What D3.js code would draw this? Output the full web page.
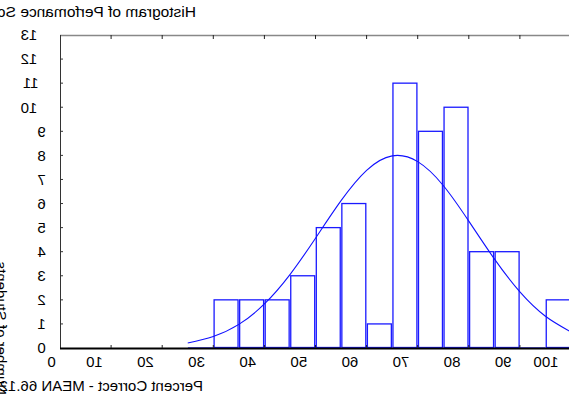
<!DOCTYPE html>
<html><head><meta charset="utf-8">
<script src="https://cdn.jsdelivr.net/npm/d3@7"></script>
<style>body{margin:0;background:#fff}svg{display:block;font-family:"Liberation Sans",Arial,sans-serif}</style>
</head><body>
<script>
const binStarts = [25,30,35,40,45,50,55,60,65,70,75,80,85,90,95];
const binWidth = 5;
const counts = [0,2,2,2,3,5,6,1,11,9,10,4,4,0,2];
const curveX = [25,30,35,40,45,50,55,60,65,70,75,80,85,90,95,100];
const curveY = [0.21,0.48,0.98,1.83,3.05,4.56,6.12,7.38,7.98,7.74,6.75,5.27,3.70,2.33,1.32,0.67];
const xTicks = [0,10,20,30,40,50,60,70,80,90,100];
const yTicks = [0,1,2,3,4,5,6,7,8,9,10,11,12,13];
const titleText = "Histogram of Perfomance Scores";
const xTitle = "Percent Correct - MEAN 66.12 SD 15.20";
const yTitle = "Number of Students";

const W = 569, H = 400;
const svg = d3.select("body").append("svg").attr("width", W).attr("height", H);
const x = d3.scaleLinear().domain([0,100]).range([60, 571]);
const y = d3.scaleLinear().domain([0,13]).range([348, 35]);

function mirror(sel){
  sel.each(function(){
    const b = this.getBBox();
    d3.select(this).attr("transform", `translate(${2*b.x},0) scale(-1,1)`);
  });
}

// top frame line
svg.append("line").attr("x1",60).attr("x2",W+5).attr("y1",35.5).attr("y2",35.5)
  .attr("stroke","#888").attr("stroke-width",1.6);
svg.append("g").selectAll("line").data(xTicks.slice(1)).join("line")
  .attr("x1",d=>x(d)).attr("x2",d=>x(d)).attr("y1",35).attr("y2",39)
  .attr("stroke","#222").attr("stroke-width",1);

// bars
svg.append("g").selectAll("rect").data(binStarts).join("rect")
  .attr("x",(d)=>x(d)+0.8)
  .attr("width",d=>x(d+binWidth)-x(d)-1.6)
  .attr("y",(d,i)=>y(counts[i]))
  .attr("height",(d,i)=>Math.max(0.01,y(0)-y(counts[i])-0.5))
  .attr("fill","none").attr("stroke","#1a1aff").attr("stroke-width",1.3);

// normal curve
const line = d3.line().x(d=>x(d[0])).y(d=>y(d[1])).curve(d3.curveNatural);
svg.append("path").datum(curveX.map((v,i)=>[v,curveY[i]]))
  .attr("d",line).attr("fill","none").attr("stroke","#1010ff").attr("stroke-width",1.1);

// left axis
svg.append("line").attr("x1",60.5).attr("x2",60.5).attr("y1",35).attr("y2",348)
  .attr("stroke","#333").attr("stroke-width",1);
svg.append("g").selectAll("line").data(yTicks.slice(1,13)).join("line")
  .attr("x1",60).attr("x2",63).attr("y1",d=>y(d)).attr("y2",d=>y(d))
  .attr("stroke","#333").attr("stroke-width",1);
// bottom axis
svg.append("line").attr("x1",60).attr("x2",W+5).attr("y1",348.5).attr("y2",348.5)
  .attr("stroke","#000").attr("stroke-width",1.8);
svg.append("g").selectAll("line").data(xTicks.slice(1)).join("line")
  .attr("x1",d=>x(d)).attr("x2",d=>x(d)).attr("y1",348).attr("y2",345)
  .attr("stroke","#222").attr("stroke-width",1);

// tick labels (mirrored glyphs)
svg.append("g").selectAll("text").data(xTicks).join("text")
  .attr("x",d=>x(d)).attr("y",367).attr("text-anchor","middle")
  .attr("font-size",15).attr("fill","#000").text(d=>d)
  .call(mirror);
svg.append("g").selectAll("text").data(yTicks).join("text")
  .attr("x",54).attr("y",d=>y(d)+5.3).attr("text-anchor","end")
  .attr("font-size",15).attr("fill","#000").text(d=>d)
  .call(mirror);

// titles
svg.append("text").attr("x",196).attr("y",16.5).attr("font-size",15.5)
  .attr("fill","#000").text(titleText).call(mirror);
svg.append("text").attr("x",203).attr("y",390.5).attr("font-size",15)
  .attr("fill","#000").text(xTitle).call(mirror);
svg.append("text").attr("transform","translate(-4.5,395) scale(-1,1) rotate(-90)")
  .attr("font-size",15).attr("fill","#000").text(yTitle);
</script>
</body></html>
